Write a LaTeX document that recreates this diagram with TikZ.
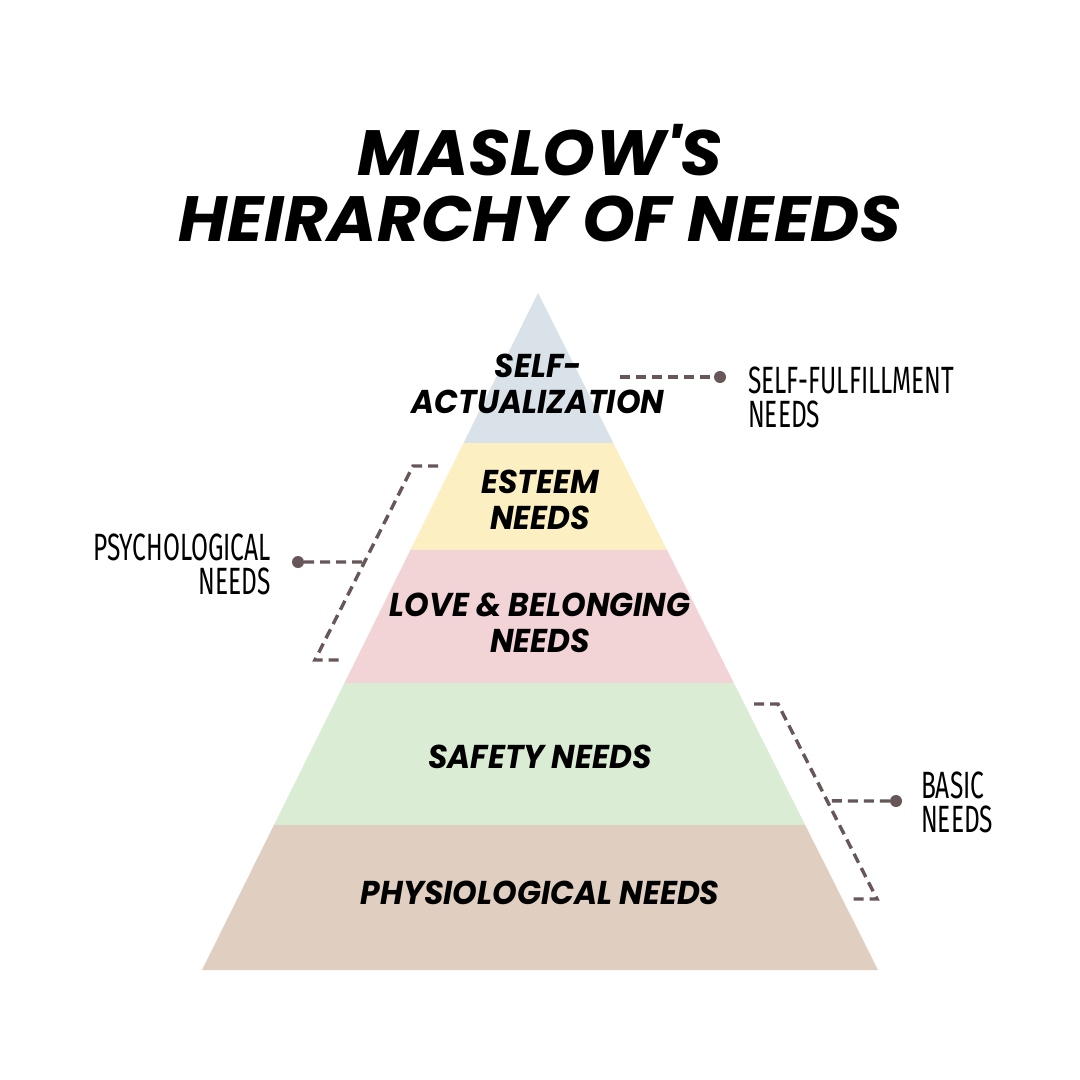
\documentclass[tikz,border=0pt]{standalone}
\usepackage{fontspec}
\setmainfont{Fira Sans}
\newfontfamily\headfont{Poppins}[FakeStretch=1.05]
\newfontfamily\brush{Poppins}[FakeStretch=0.95]
\newfontfamily\slim{Fira Sans}[FakeStretch=0.645]
\usetikzlibrary{calc,positioning}
\definecolor{tipblue}{HTML}{D8E2E8}
\definecolor{esteem}{HTML}{FCF0C3}
\definecolor{love}{HTML}{F2D4D6}
\definecolor{safety}{HTML}{DAEDD4}
\definecolor{physio}{HTML}{E0CEC1}
\definecolor{dashc}{HTML}{675759}
\begin{document}
\begin{tikzpicture}[x=1pt,y=-1pt,
  title/.style={font=\headfont\bfseries\itshape\fontsize{64}{66}\selectfont,align=center,inner sep=0},
  level/.style={font=\brush\bfseries\itshape\fontsize{33}{36}\selectfont,align=center,inner sep=0},
  side/.style={font=\slim\fontsize{38}{34}\selectfont,inner sep=0},
  link/.style={dashc,line width=3.4pt,dash pattern=on 10pt off 6pt},
  dot/.style={circle,fill=dashc,inner sep=0,minimum size=12pt}]
\useasboundingbox (0,0) rectangle (1080,1080);
\fill[white] (0,0) rectangle (1080,1080);
% pyramid
\coordinate (apex) at (538,293);
\coordinate (bl) at (202,970);
\coordinate (br) at (878,970);
\foreach \a/\b/\c in {0/0.2216/tipblue,0.2216/0.3796/esteem,0.3796/0.5761/love,0.5761/0.7858/safety,0.7858/1/physio}
  \fill[\c] ($(apex)!\a!(bl)$) -- ($(apex)!\b!(bl)$) -- ($(apex)!\b!(br)$) -- ($(apex)!\a!(br)$) -- cycle;
% labels
\node[title] (head) at (540,183) {MASLOW'S\\HEIRARCHY OF NEEDS};
\node[level] (selfact) at (538,384) {SELF-\\ACTUALIZATION};
\node[level] (est) at (540,500) {ESTEEM\\NEEDS};
\node[level] (lov) at (540,623) {LOVE \& BELONGING\\NEEDS};
\node[level] (saf) at (540,757) {SAFETY NEEDS};
\node[level] (phy) at (540,893) {PHYSIOLOGICAL NEEDS};
% side notes
\node[side,align=left,anchor=west] (fulfil) at (748,397) {SELF-FULFILLMENT\\NEEDS};
\node[side,align=right,anchor=east] (psych) at (271,564) {PSYCHOLOGICAL\\NEEDS};
\node[side,align=left,anchor=west] (basic) at (921,802) {BASIC\\NEEDS};
\node[dot] (d1) at (720,377) {};
\node[dot] (d2) at (298,562) {};
\node[dot] (d3) at (896,801) {};
\coordinate (s1) at (620,377);
\draw[link] (s1) -- (d1);
% left bracket
\coordinate (p1) at (438,466);
\coordinate (p2) at (413,466);
\coordinate (p3) at (315,660);
\coordinate (p4) at (341,660);
\draw[link] (p1) -- (p2) -- (p3) -- (p4);
\draw[link] (d2) -- ($(p2)!0.495!(p3)$);
% right bracket
\coordinate (q1) at (754,704);
\coordinate (q2) at (778,704);
\coordinate (q3) at (877,899);
\coordinate (q4) at (852,899);
\draw[link] (q1) -- (q2) -- (q3) -- (q4);
\draw[link] (d3) -- ($(q2)!0.497!(q3)$);
\end{tikzpicture}
\end{document}
